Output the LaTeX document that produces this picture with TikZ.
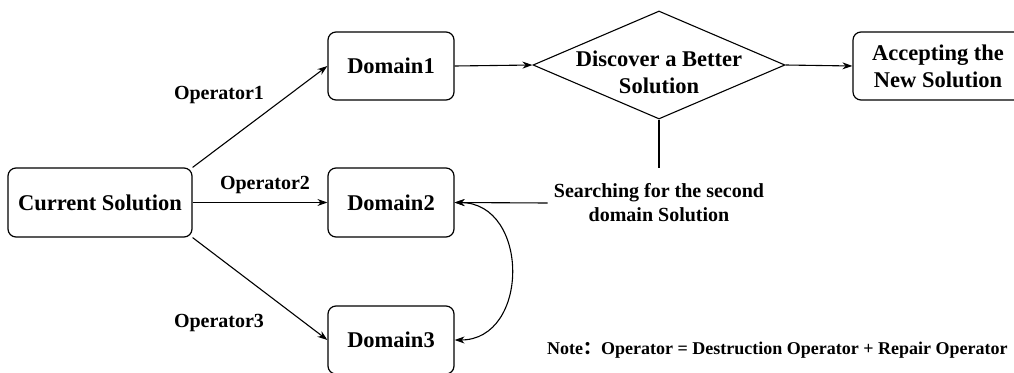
\documentclass[tikz,border=0pt]{standalone}
\usepackage{fontspec}
\setmainfont{Liberation Serif}
\newfontfamily\cjk{Noto Sans CJK SC}
\usetikzlibrary{shapes.geometric,arrows.meta}
\begin{document}
\begin{tikzpicture}[x=1pt,y=-1pt,
  box/.style={draw,rounded corners=8pt,line width=1.2pt,inner sep=0pt,align=center,font=\fontsize{22.5}{27}\selectfont\bfseries},
  big/.style={inner sep=0pt,align=center,font=\fontsize{22.5}{27}\selectfont\bfseries},
  lbl/.style={inner sep=0pt,align=center,font=\fontsize{20}{24}\selectfont\bfseries},
  arr/.style={line width=1.1pt,-{Stealth[length=10pt,width=7pt]}},
  ln/.style={line width=1.1pt}]
\useasboundingbox (0,0) rectangle (1014,372);
\clip (0,0) rectangle (1014,372);
\node[box,minimum width=184pt,minimum height=69pt] (cur) at (100,202.5) {Current Solution};
\node[box,minimum width=126pt,minimum height=68pt] (d1) at (391,66) {Domain1};
\node[box,minimum width=126pt,minimum height=69pt] (d2) at (391,202.5) {Domain2};
\node[box,minimum width=126pt,minimum height=68pt] (d3) at (391,340) {Domain3};
\node[draw,diamond,minimum width=252pt,minimum height=108pt,inner sep=0pt,line width=1.1pt] (dia) at (659,65) {};
\node[big] (diat) at (659,72) {Discover a Better\\Solution};
\node[box,minimum width=170pt,minimum height=68pt] (acc) at (938,66) {Accepting the\\New Solution};
\node[lbl,inner sep=6pt] (search) at (659,203) {Searching for the second\\domain Solution};
\coordinate (sj) at (659,168);
\node[lbl] (op1) at (219,95) {Operator1};
\node[lbl] (op2) at (265,185) {Operator2};
\node[lbl] (op3) at (219,323) {Operator3};
\node[inner sep=0pt,anchor=base west,font=\fontsize{18}{22}\selectfont\bfseries] (note) at (547,354) {Note{\cjk ：}Operator = Destruction Operator + Repair Operator};
\draw[arr] (cur.north east) -- (d1.west);
\draw[arr] (cur.east) -- (d2.west);
\draw[arr] (cur.south east) -- (d3.west);
\draw[arr] (d1.east) -- (dia.west);
\draw[arr] (dia.east) -- (acc.west);
\draw[ln] (dia.south) -- (sj);
\draw[arr] (search.west) -- (d2.east);
\draw[line width=1.1pt,{Stealth[length=10pt,width=7pt]}-{Stealth[length=10pt,width=7pt]}] (d2.east) .. controls (530,203) and (530,340) .. (d3.east);
\end{tikzpicture}
\end{document}
